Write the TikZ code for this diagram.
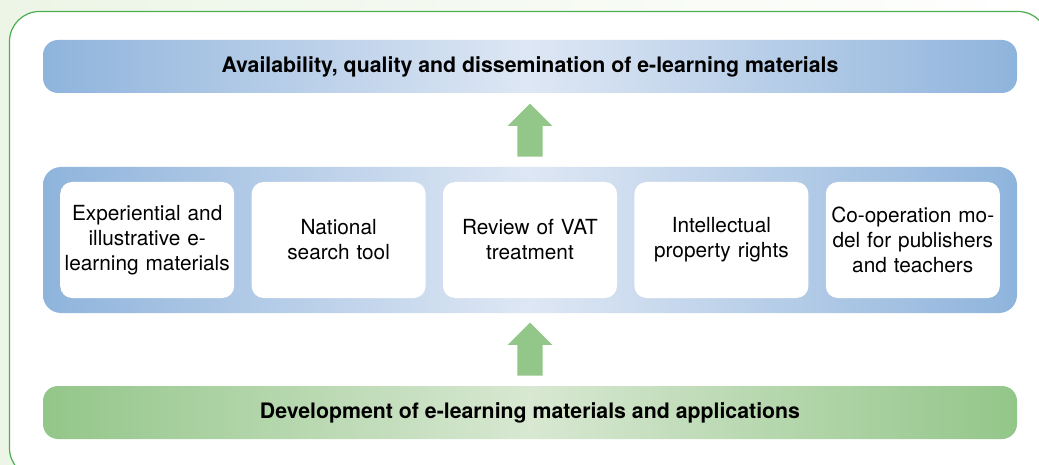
\documentclass[tikz,border=0pt]{standalone}
\usepackage{fontspec}
\setmainfont{TeX Gyre Heros}
\usetikzlibrary{positioning, shapes.arrows, calc}
\definecolor{bandblue}{RGB}{143,180,220}
\definecolor{paleblue}{RGB}{222,231,244}
\definecolor{bandgreen}{RGB}{147,198,137}
\definecolor{palegreen}{RGB}{216,232,210}
\definecolor{framegreen}{RGB}{76,175,80}
\definecolor{bggreen}{RGB}{236,245,230}

\tikzset{
  bar/.style={rounded corners=15pt, minimum width=974pt, minimum height=53pt,
    inner sep=0pt, font=\fontsize{21.3}{25}\selectfont\bfseries},
  bluebar/.style={bar, left color=bandblue, right color=bandblue, middle color=paleblue},
  greenbar/.style={bar, left color=bandgreen, right color=bandgreen, middle color=palegreen},
  itembox/.style={fill=white, rounded corners=12pt, minimum width=174pt, minimum height=116pt,
    inner sep=0pt, text width=172pt, align=center, font=\fontsize{20.8}{25}\selectfont},
  uparrow/.style={single arrow, rotate=90, fill=bandgreen, draw=none, inner sep=12.5pt,
    minimum height=53pt, minimum width=44pt, single arrow head extend=9.5pt, anchor=tail}
}

\begin{document}
\begin{tikzpicture}[x=1pt,y=-1pt]
  \useasboundingbox (0,0) rectangle (1039,465);
  \fill[left color=bggreen, right color=white] (0,0) rectangle (1039,465);
  % Outer frame
  \draw[framegreen, fill=white, line width=1.2pt, rounded corners=30pt] (9.5,11.5) rectangle (1048,478);
  % Top bar
  \node[bluebar] (avail) at (530,66.5) {Availability, quality and dissemination of e-learning materials};
  % Middle band with the five measures
  \node[bluebar, rounded corners=18pt, minimum height=146pt] (band) at (530,240) {};
  \node[itembox] (m3) at (530,240) {Review of VAT\\treatment};
  \node[itembox, left=17pt of m3] (m2) {National\\search tool};
  \node[itembox, left=17pt of m2] (m1) {Experiential and\\illustrative e-\\learning materials};
  \node[itembox, right=17pt of m3] (m4) {Intellectual\\property rights};
  \node[itembox, right=17pt of m4] (m5) {Co-operation mo-\\del for publishers\\and teachers};
  % Bottom bar
  \node[greenbar] (develop) at (530,412.5) {Development of e-learning materials and applications};
  % Block arrows
  \node[uparrow] (up1) at ($(band.north)+(0,-10)$) {};
  \node[uparrow] (up2) at ($(develop.north)+(0,-10)$) {};
\end{tikzpicture}
\end{document}
